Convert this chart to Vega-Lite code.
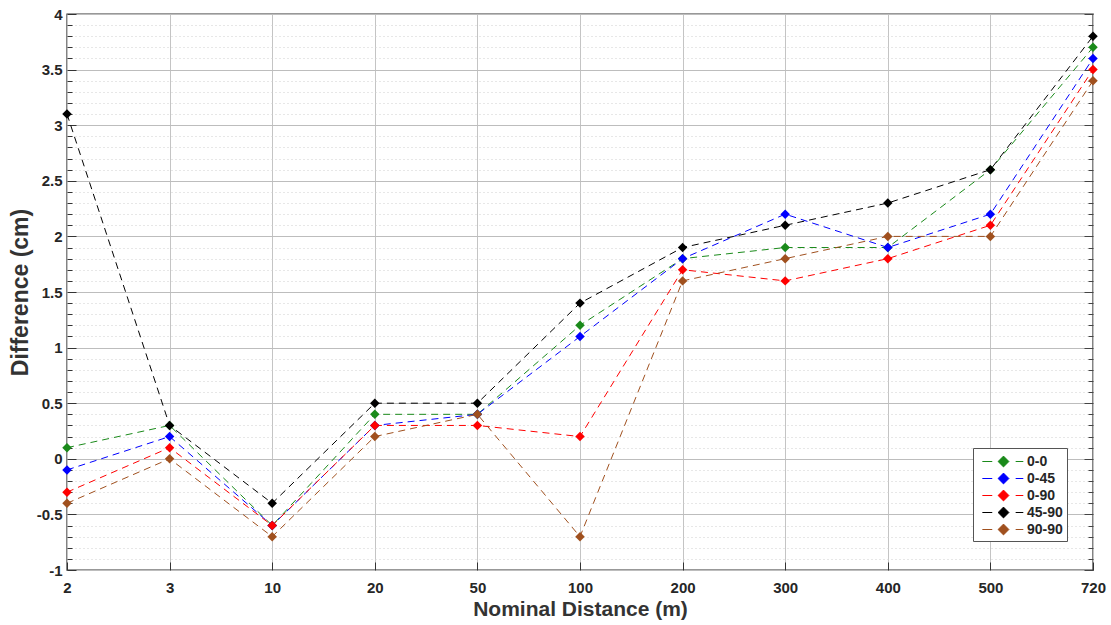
{
  "$schema": "https://vega.github.io/schema/vega-lite/v6.json",
  "autosize": {"type": "none"},
  "padding": {"left": 67, "top": 14, "right": 18, "bottom": 55},
  "width": 1026,
  "height": 556,
  "background": "white",
  "config": {
    "font": "Liberation Sans",
    "view": {"stroke": "#333333", "strokeWidth": 1.4}
  },
  "data": {
    "values": [
      {"dist": "2", "series": "0-0", "diff": 0.1},
      {"dist": "3", "series": "0-0", "diff": 0.3},
      {"dist": "10", "series": "0-0", "diff": -0.6},
      {"dist": "20", "series": "0-0", "diff": 0.4},
      {"dist": "50", "series": "0-0", "diff": 0.4},
      {"dist": "100", "series": "0-0", "diff": 1.2},
      {"dist": "200", "series": "0-0", "diff": 1.8},
      {"dist": "300", "series": "0-0", "diff": 1.9},
      {"dist": "400", "series": "0-0", "diff": 1.9},
      {"dist": "500", "series": "0-0", "diff": 2.6},
      {"dist": "720", "series": "0-0", "diff": 3.7},
      {"dist": "2", "series": "0-45", "diff": -0.1},
      {"dist": "3", "series": "0-45", "diff": 0.2},
      {"dist": "10", "series": "0-45", "diff": -0.6},
      {"dist": "20", "series": "0-45", "diff": 0.3},
      {"dist": "50", "series": "0-45", "diff": 0.4},
      {"dist": "100", "series": "0-45", "diff": 1.1},
      {"dist": "200", "series": "0-45", "diff": 1.8},
      {"dist": "300", "series": "0-45", "diff": 2.2},
      {"dist": "400", "series": "0-45", "diff": 1.9},
      {"dist": "500", "series": "0-45", "diff": 2.2},
      {"dist": "720", "series": "0-45", "diff": 3.6},
      {"dist": "2", "series": "0-90", "diff": -0.3},
      {"dist": "3", "series": "0-90", "diff": 0.1},
      {"dist": "10", "series": "0-90", "diff": -0.6},
      {"dist": "20", "series": "0-90", "diff": 0.3},
      {"dist": "50", "series": "0-90", "diff": 0.3},
      {"dist": "100", "series": "0-90", "diff": 0.2},
      {"dist": "200", "series": "0-90", "diff": 1.7},
      {"dist": "300", "series": "0-90", "diff": 1.6},
      {"dist": "400", "series": "0-90", "diff": 1.8},
      {"dist": "500", "series": "0-90", "diff": 2.1},
      {"dist": "720", "series": "0-90", "diff": 3.5},
      {"dist": "2", "series": "45-90", "diff": 3.1},
      {"dist": "3", "series": "45-90", "diff": 0.3},
      {"dist": "10", "series": "45-90", "diff": -0.4},
      {"dist": "20", "series": "45-90", "diff": 0.5},
      {"dist": "50", "series": "45-90", "diff": 0.5},
      {"dist": "100", "series": "45-90", "diff": 1.4},
      {"dist": "200", "series": "45-90", "diff": 1.9},
      {"dist": "300", "series": "45-90", "diff": 2.1},
      {"dist": "400", "series": "45-90", "diff": 2.3},
      {"dist": "500", "series": "45-90", "diff": 2.6},
      {"dist": "720", "series": "45-90", "diff": 3.8},
      {"dist": "2", "series": "90-90", "diff": -0.4},
      {"dist": "3", "series": "90-90", "diff": 0.0},
      {"dist": "10", "series": "90-90", "diff": -0.7},
      {"dist": "20", "series": "90-90", "diff": 0.2},
      {"dist": "50", "series": "90-90", "diff": 0.4},
      {"dist": "100", "series": "90-90", "diff": -0.7},
      {"dist": "200", "series": "90-90", "diff": 1.6},
      {"dist": "300", "series": "90-90", "diff": 1.8},
      {"dist": "400", "series": "90-90", "diff": 2.0},
      {"dist": "500", "series": "90-90", "diff": 2.0},
      {"dist": "720", "series": "90-90", "diff": 3.4}
    ]
  },
  "encoding": {
    "x": {
      "field": "dist",
      "type": "ordinal",
      "sort": ["2", "3", "10", "20", "50", "100", "200", "300", "400", "500", "720"],
      "scale": {"type": "point", "padding": 0},
      "axis": {
        "title": "Nominal Distance (m)",
        "titleFont": "Liberation Sans",
        "titleFontSize": 21,
        "titleFontWeight": "bold",
        "titleColor": "#333333",
        "titlePadding": 3,
        "labelFont": "Liberation Sans",
        "labelFontSize": 15,
        "labelFontWeight": "bold",
        "labelColor": "#262626",
        "labelAngle": 0,
        "labelPadding": 18,
        "ticks": true,
        "tickSize": -8,
        "tickColor": "#333333",
        "domain": false,
        "grid": true,
        "gridColor": "#c4c4c4",
        "gridWidth": 1
      }
    },
    "color": {
      "field": "series",
      "type": "nominal",
      "scale": {
        "domain": ["0-0", "0-45", "0-90", "45-90", "90-90"],
        "range": ["#1a8a1a", "#0000ff", "#ff0000", "#000000", "#a0501e"]
      },
      "legend": {
        "orient": "none",
        "legendX": 906,
        "legendY": 434,
        "title": null,
        "fillColor": "white",
        "strokeColor": "#555555",
        "padding": 4,
        "symbolType": "M-2.35,0H-1.25M0,-0.6L0.6,0L0,0.6L-0.6,0ZM1.35,0H2.2",
        "symbolSize": 324,
        "symbolOffset": 17,
        "symbolStrokeWidth": 1,
        "labelOffset": 14,
        "labelFont": "Liberation Sans",
        "labelFontSize": 14,
        "labelFontWeight": "bold",
        "labelColor": "#262626",
        "rowPadding": 0,
        "encode": {
          "symbols": {
            "update": {
              "fill": {"scale": "color", "field": "value"},
              "stroke": {"scale": "color", "field": "value"},
              "strokeWidth": {"value": 1},
              "opacity": {"value": 1}
            }
          }
        }
      }
    }
  },
  "layer": [
    {
      "mark": {"type": "line", "strokeDash": [7, 5], "strokeWidth": 1},
      "encoding": {
        "y": {
          "field": "diff",
          "type": "quantitative",
          "scale": {"domain": [-1, 4], "nice": false, "zero": false},
          "axis": {
            "orient": "right",
            "title": null,
            "labels": false,
            "domain": false,
            "values": [-1, -0.9, -0.8, -0.7, -0.6, -0.5, -0.4, -0.3, -0.2, -0.1, 0, 0.1, 0.2, 0.3, 0.4, 0.5, 0.6, 0.7, 0.8, 0.9, 1, 1.1, 1.2, 1.3, 1.4, 1.5, 1.6, 1.7, 1.8, 1.9, 2, 2.1, 2.2, 2.3, 2.4, 2.5, 2.6, 2.7, 2.8, 2.9, 3, 3.1, 3.2, 3.3, 3.4, 3.5, 3.6, 3.7, 3.8, 3.9, 4],
            "ticks": true,
            "tickSize": {"condition": {"test": "abs(datum.value*2 - round(datum.value*2)) < 0.001", "value": -9}, "value": -5},
            "tickColor": "#444444",
            "grid": false
          }
        }
      }
    },
    {
      "mark": {"type": "point", "shape": "diamond", "filled": true, "size": 90, "opacity": 1},
      "encoding": {
        "y": {
          "field": "diff",
          "type": "quantitative",
          "scale": {"domain": [-1, 4], "nice": false, "zero": false},
          "axis": {
            "orient": "left",
            "title": "Difference (cm)",
            "titleFont": "Liberation Sans",
            "titleFontSize": 23,
            "titleFontWeight": "bold",
            "titleColor": "#333333",
            "titlePadding": 4,
            "labelFont": "Liberation Sans",
            "labelFontSize": 15,
            "labelFontWeight": "bold",
            "labelColor": "#262626",
            "labelPadding": 14,
            "values": [-1, -0.9, -0.8, -0.7, -0.6, -0.5, -0.4, -0.3, -0.2, -0.1, 0, 0.1, 0.2, 0.3, 0.4, 0.5, 0.6, 0.7, 0.8, 0.9, 1, 1.1, 1.2, 1.3, 1.4, 1.5, 1.6, 1.7, 1.8, 1.9, 2, 2.1, 2.2, 2.3, 2.4, 2.5, 2.6, 2.7, 2.8, 2.9, 3, 3.1, 3.2, 3.3, 3.4, 3.5, 3.6, 3.7, 3.8, 3.9, 4],
            "labelExpr": "abs(datum.value*2 - round(datum.value*2)) < 0.001 ? '' + datum.value : ''",
            "ticks": true,
            "tickSize": {"condition": {"test": "abs(datum.value*2 - round(datum.value*2)) < 0.001", "value": -9}, "value": -5},
            "tickColor": "#333333",
            "domain": false,
            "grid": true,
            "gridColor": {"condition": {"test": "abs(datum.value*2 - round(datum.value*2)) < 0.001", "value": "#bdbdbd"}, "value": "#cfcfcf"},
            "gridDash": {"condition": {"test": "abs(datum.value*2 - round(datum.value*2)) < 0.001", "value": []}, "value": [1, 3]},
            "gridWidth": 1
          }
        }
      }
    }
  ],
  "resolve": {"scale": {"y": "independent"}}
}
